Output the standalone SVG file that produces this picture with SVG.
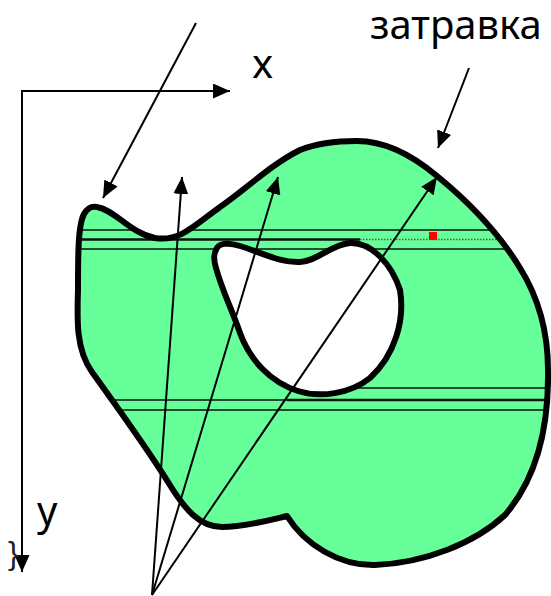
<svg xmlns="http://www.w3.org/2000/svg" width="551" height="596" viewBox="0 0 551 596">
<style>
.lbl{font-family:"Noto Sans","DejaVu Sans",sans-serif;font-size:40px;fill:#000}
.arr{stroke:#000;stroke-width:2;fill:none}
.hl{stroke:#111;stroke-width:1.5;fill:none}
.hlb{stroke:#111;stroke-width:2.6;fill:none}
.hld{stroke:#555;stroke-width:1.6;stroke-dasharray:1.5 1.5;fill:none}
.outline{stroke:#000;stroke-width:6;fill:none;stroke-linejoin:round}
</style>
<defs>
<marker id="ah" markerUnits="userSpaceOnUse" markerWidth="17" markerHeight="15" refX="17" refY="7.5" orient="auto">
<path d="M0,0 L17,7.5 L0,15 Z" fill="#000"/>
</marker>
<path id="outer" d="M78,290 C78,255 78,225 84,214 C88,207 92,206 97,207 C115,210 130,233 155,238 C180,242 195,225 220,207 C245,190 270,165 300,150 C320,142 340,141 357,141 C385,141 412,155 437,176 C470,203 500,235 520,268 C540,300 548,335 548,370 C549,430 535,480 505,515 C475,543 425,563 375,565 C340,566 305,545 287,516 C270,520 245,527 222,527 C200,527 185,510 168,482 C145,445 112,400 92,372 C76,350 77,320 78,290 Z"/>
<path id="hole" d="M216,250 C218,243 228,242 240,246 C260,252 280,263 300,262 C318,261 330,245 350,243 C372,242 392,265 400,290 C405,320 395,355 370,378 C350,394 320,398 298,391 C270,382 250,360 240,333 C232,310 222,290 216,268 C213,258 214,254 216,250 Z"/>
<clipPath id="clipOuter"><use href="#outer"/></clipPath>
</defs>
<rect width="551" height="596" fill="#fff"/>
<g id="region">
<use href="#outer" fill="#66FF99"/>
<g id="scanlines" clip-path="url(#clipOuter)">
<line class="hl" x1="60" y1="230" x2="551" y2="230"/>
<line class="hlb" x1="60" y1="239.5" x2="360" y2="239.5"/>
<line class="hld" x1="360" y1="239.5" x2="551" y2="239.5"/>
<line class="hl" x1="60" y1="249" x2="551" y2="249"/>
<line class="hl" x1="330" y1="388" x2="551" y2="388"/>
<line class="hl" x1="60" y1="400" x2="287" y2="400"/>
<line class="hlb" x1="287" y1="400" x2="551" y2="400"/>
<line class="hl" x1="60" y1="410" x2="551" y2="410"/>
</g>
<use href="#hole" fill="#fff" stroke="#000" stroke-width="6"/>
<use href="#outer" class="outline"/>
<rect id="seed" x="429" y="232" width="8" height="8" fill="#FF0000"/>
</g>
<g id="axes">
<polyline class="arr" points="22,572 22,91 230,91" marker-end="url(#ah)"/>
<line class="arr" x1="22" y1="300" x2="22" y2="572" marker-end="url(#ah)"/>
</g>
<g id="connectors">
<line class="arr" x1="196" y1="23" x2="103" y2="198" marker-end="url(#ah)"/>
<line class="arr" x1="469" y1="68" x2="438" y2="148" marker-end="url(#ah)"/>
<line class="arr" x1="152" y1="595" x2="182" y2="177" marker-end="url(#ah)"/>
<line class="arr" x1="152" y1="595" x2="278" y2="177" marker-end="url(#ah)"/>
<line class="arr" x1="152" y1="595" x2="437" y2="177" marker-end="url(#ah)"/>
</g>
<g id="labels">
<text class="lbl" x="370" y="39" font-size="39">затравка</text>
<text class="lbl" x="252" y="78">x</text>
<text class="lbl" x="37" y="525">y</text>
<text x="8" y="564" font-family="Liberation Sans, sans-serif" font-size="32" fill="#222">}</text>
</g>
</svg>
